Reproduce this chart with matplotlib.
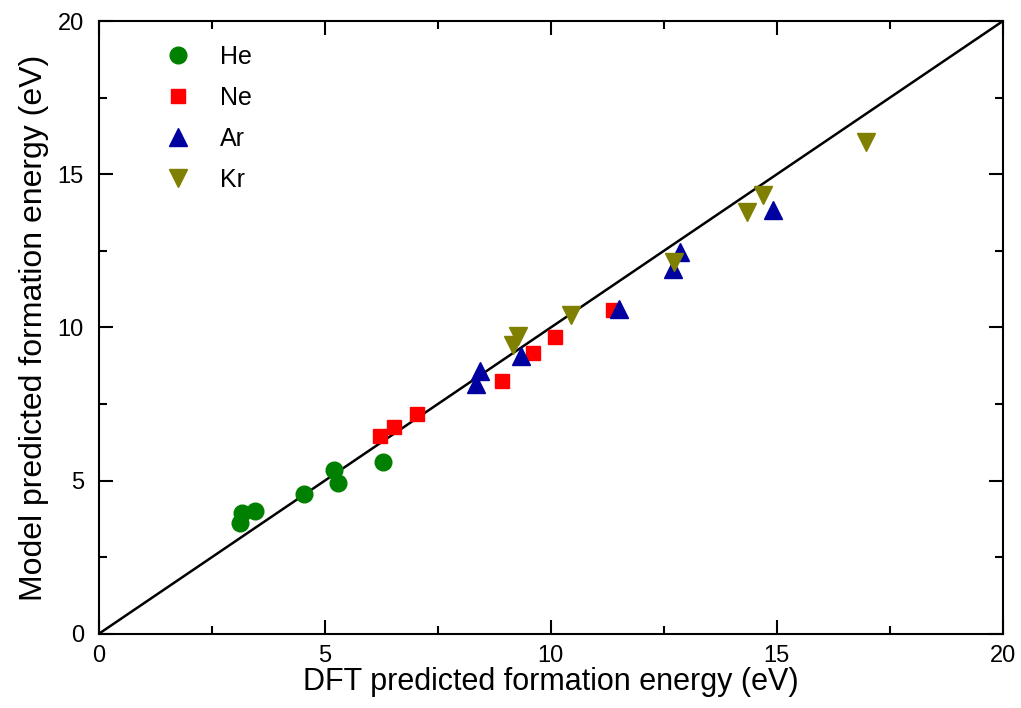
import matplotlib
matplotlib.use("Agg")
import matplotlib.pyplot as plt
from matplotlib.ticker import MultipleLocator

plt.rcParams["font.family"] = ["Liberation Sans", "DejaVu Sans"]

# DFT vs model formation energies (eV)
he_dft = [3.12, 3.16, 3.45, 4.54, 5.20, 5.28, 6.29]
he_model = [3.62, 3.94, 4.02, 4.57, 5.36, 4.92, 5.60]

ne_dft = [6.21, 6.53, 7.03, 8.92, 9.61, 10.10, 11.38]
ne_model = [6.45, 6.75, 7.16, 8.25, 9.17, 9.68, 10.56]

ar_dft = [8.34, 8.43, 9.35, 11.50, 12.71, 12.85, 14.92]
ar_model = [8.16, 8.57, 9.08, 10.59, 11.90, 12.46, 13.83]

kr_dft = [9.17, 9.28, 10.45, 12.72, 14.35, 14.70, 16.97]
kr_model = [9.44, 9.72, 10.42, 12.13, 13.77, 14.31, 16.04]

fig = plt.figure(figsize=(10.21, 7.08), dpi=100)
ax = fig.add_axes([0.097, 0.105, 0.885, 0.865])

ax.plot([0, 20], [0, 20], color="black", lw=1.8, zorder=1)

ax.plot(he_dft, he_model, "o", color="#008000", ms=12, ls="none", label="He")
ax.plot(ne_dft, ne_model, "s", color="#ff0000", ms=9.5, ls="none", label="Ne")
ax.plot(ar_dft, ar_model, "^", color="#0000a0", ms=13, ls="none", label="Ar")
ax.plot(kr_dft, kr_model, "v", color="#808000", ms=13, ls="none", label="Kr")

ax.set_xlim(0, 20)
ax.set_ylim(0, 20)
ax.xaxis.set_major_locator(MultipleLocator(5))
ax.yaxis.set_major_locator(MultipleLocator(5))
ax.xaxis.set_minor_locator(MultipleLocator(2.5))
ax.yaxis.set_minor_locator(MultipleLocator(2.5))
ax.tick_params(which="both", direction="in", top=True, right=True, width=1.5,
               labelsize=17)
ax.tick_params(axis="x", pad=8)
ax.tick_params(axis="y", pad=11)
ax.tick_params(which="major", length=10)
ax.tick_params(which="minor", length=6)
for s in ax.spines.values():
    s.set_linewidth(1.5)

ax.set_xlabel("DFT predicted formation energy (eV)", fontsize=22, labelpad=0)
ax.set_ylabel("Model predicted formation energy (eV)", fontsize=23, labelpad=6)

ax.legend(loc="upper left", frameon=False, fontsize=18, handletextpad=0.7,
          labelspacing=0.68, borderaxespad=0.3, bbox_to_anchor=(0.04, 0.99))

fig.savefig("out.png", dpi=100)
